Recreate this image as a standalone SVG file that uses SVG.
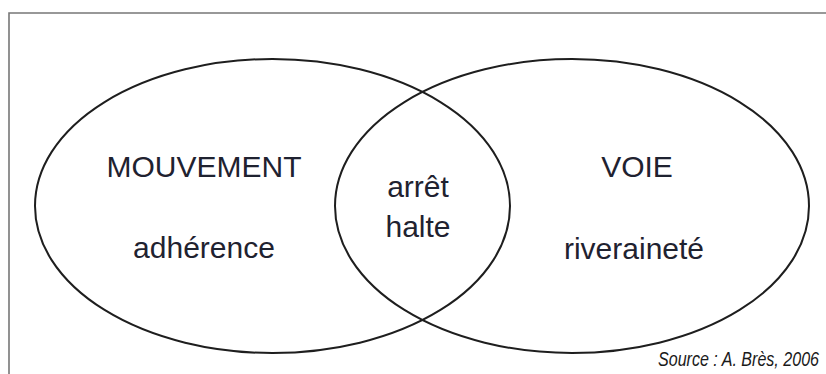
<svg xmlns="http://www.w3.org/2000/svg" width="826" height="374" viewBox="0 0 826 374">
  <style>
    .set { fill: none; stroke: #1e1e1e; stroke-width: 2; }
    .lbl { font-family: "Liberation Sans", Arial, sans-serif; font-size: 30px; fill: #1f2230; text-anchor: middle; }
    .src { font-family: "Liberation Sans", Arial, sans-serif; font-size: 20px; font-style: italic; fill: #1a1a1a; text-anchor: end; }
    .frame { fill: none; stroke: #777; stroke-width: 1.6; }
  </style>
  <rect width="826" height="374" fill="#ffffff"/>
  <path class="frame" d="M9,374 V13 H826"/>
  <g id="mouvement">
    <ellipse class="set" cx="272.5" cy="206" rx="237.5" ry="147"/>
    <text class="lbl" x="204" y="177">MOUVEMENT</text>
    <text class="lbl" x="204" y="258">adhérence</text>
  </g>
  <g id="voie">
    <ellipse class="set" cx="572" cy="206" rx="237" ry="147"/>
    <text class="lbl" x="637" y="177">VOIE</text>
    <text class="lbl" x="634" y="259">riveraineté</text>
  </g>
  <g id="intersection">
    <text class="lbl" x="418" y="197">arrêt</text>
    <text class="lbl" x="418" y="237">halte</text>
  </g>
  <g id="source">
    <text class="src" x="819" y="366" textLength="161" lengthAdjust="spacingAndGlyphs">Source : A. Brès, 2006</text>
  </g>
</svg>
